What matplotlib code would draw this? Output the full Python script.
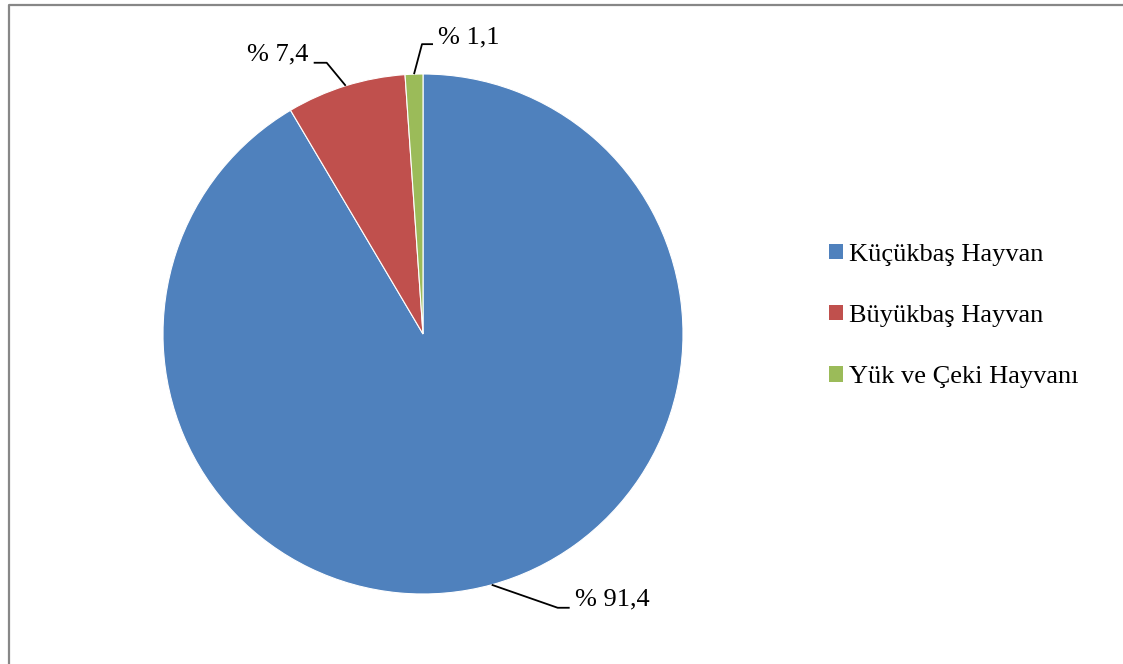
import numpy as np
import matplotlib.pyplot as plt
from matplotlib.lines import Line2D
from matplotlib.patches import Patch

categories = ["Küçükbaş Hayvan", "Büyükbaş Hayvan", "Yük ve Çeki Hayvanı"]
values = [91.4, 7.4, 1.1]
value_labels = ["% 91,4", "% 7,4", "% 1,1"]
colors = ["#4F81BD", "#C0504D", "#9BBB59"]

plt.rcParams['font.family'] = ['Liberation Serif', 'DejaVu Serif']

W, H = 1123, 664
fig = plt.figure(figsize=(W / 100, H / 100), dpi=100)

# pie axes: centre (423, 334) px, radius 260 px
cx, cy, r = 423, 334, 260
ax = fig.add_axes([(cx - r) / W, (H - cy - r) / H, 2 * r / W, 2 * r / H])
wedges, _ = ax.pie(values, colors=colors, startangle=90, counterclock=False,
                   radius=1.0, wedgeprops=dict(linewidth=0.8, edgecolor="white"))
ax.set_xlim(-1, 1)
ax.set_ylim(-1, 1)
ax.set_aspect("equal")
ax.axis("off")

# label layout: offsets in pixels from the wedge edge point (x right, y down)
px = 1.0 / r
layouts = [
    # 91,4
    dict(elbow=(66, 23), end=(78, 23), text=(83, 15), ha="left"),
    # 7,4
    dict(elbow=(-19, -23), end=(-32, -23), text=(-37, -31), ha="right"),
    # 1,1
    dict(elbow=(8, -30), end=(19, -30), text=(24, -37), ha="left"),
]
for w, lab, lay in zip(wedges, value_labels, layouts):
    ang = np.deg2rad((w.theta1 + w.theta2) / 2)
    x0, y0 = np.cos(ang), np.sin(ang)
    ex, ey = x0 + lay["elbow"][0] * px, y0 - lay["elbow"][1] * px
    tx, ty = x0 + lay["end"][0] * px, y0 - lay["end"][1] * px
    ax.plot([x0, ex, tx], [y0, ey, ty], color="black", lw=1.3, clip_on=False,
            solid_capstyle="butt")
    ax.text(x0 + lay["text"][0] * px, y0 - lay["text"][1] * px, lab,
            ha=lay["ha"], va="center", fontsize=19, clip_on=False)

handles = [Patch(facecolor=c, edgecolor="none") for c in colors]
fig.legend(handles, categories, loc="center left",
           bbox_to_anchor=(829 / W, (H - 316) / H), frameon=False,
           fontsize=19, handlelength=0.53, handleheight=0.53,
           handletextpad=0.22, labelspacing=1.48, borderpad=0, borderaxespad=0)

# outer frame (top and left visible)
fig.add_artist(Line2D([8.5 / W, 8.5 / W, 1.0], [0.0, 1 - 4.5 / H, 1 - 4.5 / H],
                      transform=fig.transFigure, color="#878787", lw=1.6))

fig.savefig("out.png", dpi=100)
